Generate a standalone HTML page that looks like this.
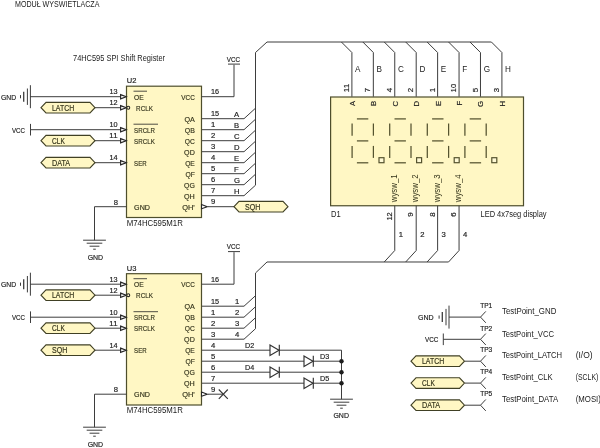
<!DOCTYPE html>
<html><head><meta charset="utf-8"><title>Modul wyswietlacza</title>
<style>
html,body{margin:0;padding:0;background:#fff;}
body{width:600px;height:448px;overflow:hidden;}
svg{display:block;will-change:transform;}
svg text{font-family:"Liberation Sans",sans-serif;stroke-width:0.18px;paint-order:stroke;}
</style></head><body>
<svg width="600" height="448" viewBox="0 0 600 448">
<rect width="600" height="448" fill="#fff"/>
<g transform="translate(0,-0.3)">
<text x="15" y="7.6" font-size="8.16" textLength="84.44" lengthAdjust="spacingAndGlyphs" fill="#222222">MODUŁ WYŚWIETLACZA</text>
<text x="73" y="61.3" font-size="8.26" textLength="92.02" lengthAdjust="spacingAndGlyphs" fill="#222222">74HC595 SPI Shift Register</text>
<rect x="126.5" y="86.5" width="75.0" height="131.3" fill="#fff7c4" stroke="#4e4e2c" stroke-width="1.2"/>
<text x="126.8" y="83.8" font-size="8.06" textLength="9.65" lengthAdjust="spacingAndGlyphs" fill="#222222" stroke="#222222">U2</text>
<text x="126.7" y="226.0" font-size="8.35" textLength="56.12" lengthAdjust="spacingAndGlyphs" fill="#222222">M74HC595M1R</text>
<text x="117.5" y="94.6" font-size="7.68" text-anchor="end" textLength="8.11" lengthAdjust="spacingAndGlyphs" fill="#222222" stroke="#222222">13</text>
<polygon points="120.6,94.9 126.2,97 120.6,99.1" fill="#fff" stroke="#262626" stroke-width="1.15"/>
<text x="134.1" y="100.1" font-size="8.06" textLength="9.66" lengthAdjust="spacingAndGlyphs" fill="#34341c" stroke="#34341c">OE</text>
<line x1="133.5" y1="91.5" x2="147.0" y2="91.5" stroke="#222222" stroke-width="0.8"/>
<text x="117.5" y="105.6" font-size="7.68" text-anchor="end" textLength="8.11" lengthAdjust="spacingAndGlyphs" fill="#222222" stroke="#222222">12</text>
<polygon points="120.6,105.9 126.2,108 120.6,110.1" fill="#fff" stroke="#262626" stroke-width="1.15"/>
<text x="136.1" y="111.1" font-size="8.06" textLength="16.86" lengthAdjust="spacingAndGlyphs" fill="#34341c" stroke="#34341c">RCLK</text>
<text x="117.5" y="127.6" font-size="7.68" text-anchor="end" textLength="8.11" lengthAdjust="spacingAndGlyphs" fill="#222222" stroke="#222222">10</text>
<polygon points="120.6,127.9 126.2,130 120.6,132.1" fill="#fff" stroke="#262626" stroke-width="1.15"/>
<text x="134.1" y="133.1" font-size="8.06" textLength="20.92" lengthAdjust="spacingAndGlyphs" fill="#34341c" stroke="#34341c">SRCLR</text>
<line x1="133.5" y1="124.5" x2="158.0" y2="124.5" stroke="#222222" stroke-width="0.8"/>
<text x="117.5" y="138.6" font-size="7.68" text-anchor="end" textLength="8.11" lengthAdjust="spacingAndGlyphs" fill="#222222" stroke="#222222">11</text>
<polygon points="120.6,138.9 126.2,141 120.6,143.1" fill="#fff" stroke="#262626" stroke-width="1.15"/>
<text x="134.1" y="144.1" font-size="8.06" textLength="20.72" lengthAdjust="spacingAndGlyphs" fill="#34341c" stroke="#34341c">SRCLK</text>
<text x="117.5" y="160.6" font-size="7.68" text-anchor="end" textLength="8.11" lengthAdjust="spacingAndGlyphs" fill="#222222" stroke="#222222">14</text>
<polygon points="120.6,160.9 126.2,163 120.6,165.1" fill="#fff" stroke="#262626" stroke-width="1.15"/>
<text x="134.1" y="166.1" font-size="8.06" textLength="12.52" lengthAdjust="spacingAndGlyphs" fill="#34341c" stroke="#34341c">SER</text>
<circle cx="128.3" cy="108" r="1.45" fill="#fff7c4" stroke="#262626" stroke-width="1.05"/>
<text x="118" y="205" font-size="7.68" text-anchor="end" fill="#222222" stroke="#222222">8</text>
<text x="134.1" y="210.1" font-size="8.06" textLength="15.89" lengthAdjust="spacingAndGlyphs" fill="#34341c" stroke="#34341c">GND</text>
<polyline points="126.5,207 94.5,207 94.5,240.5" fill="none" stroke="#3d3d3d" stroke-width="1"/>
<line x1="83.1" y1="240.5" x2="105.9" y2="240.5" stroke="#3d3d3d" stroke-width="1"/>
<line x1="86.7" y1="243.5" x2="102.3" y2="243.5" stroke="#3d3d3d" stroke-width="1"/>
<line x1="89.6" y1="246.5" x2="99.4" y2="246.5" stroke="#3d3d3d" stroke-width="1"/>
<line x1="93.2" y1="249.5" x2="95.8" y2="249.5" stroke="#3d3d3d" stroke-width="1"/>
<text x="95.4" y="259.9" font-size="7.87" text-anchor="middle" textLength="15.51" lengthAdjust="spacingAndGlyphs" fill="#222222" stroke="#222222">GND</text>
<text x="194.8" y="100.1" font-size="7.97" text-anchor="end" textLength="13.49" lengthAdjust="spacingAndGlyphs" fill="#34341c" stroke="#34341c">VCC</text>
<text x="211" y="94.6" font-size="7.68" textLength="8.11" lengthAdjust="spacingAndGlyphs" fill="#222222" stroke="#222222">16</text>
<text x="194.8" y="122.1" font-size="7.97" text-anchor="end" textLength="10.39" lengthAdjust="spacingAndGlyphs" fill="#34341c" stroke="#34341c">QA</text>
<text x="211" y="116.6" font-size="7.68" textLength="8.11" lengthAdjust="spacingAndGlyphs" fill="#222222" stroke="#222222">15</text>
<text x="194.8" y="133.1" font-size="7.97" text-anchor="end" textLength="10.1" lengthAdjust="spacingAndGlyphs" fill="#34341c" stroke="#34341c">QB</text>
<text x="211" y="127.6" font-size="7.68" fill="#222222" stroke="#222222">1</text>
<text x="194.8" y="144.1" font-size="7.97" text-anchor="end" textLength="10.01" lengthAdjust="spacingAndGlyphs" fill="#34341c" stroke="#34341c">QC</text>
<text x="211" y="138.6" font-size="7.68" fill="#222222" stroke="#222222">2</text>
<text x="194.8" y="155.1" font-size="7.97" text-anchor="end" textLength="10.69" lengthAdjust="spacingAndGlyphs" fill="#34341c" stroke="#34341c">QD</text>
<text x="211" y="149.6" font-size="7.68" fill="#222222" stroke="#222222">3</text>
<text x="194.8" y="166.1" font-size="7.97" text-anchor="end" textLength="9.64" lengthAdjust="spacingAndGlyphs" fill="#34341c" stroke="#34341c">QE</text>
<text x="211" y="160.6" font-size="7.68" fill="#222222" stroke="#222222">4</text>
<text x="194.8" y="177.1" font-size="7.97" text-anchor="end" textLength="9.4" lengthAdjust="spacingAndGlyphs" fill="#34341c" stroke="#34341c">QF</text>
<text x="211" y="171.6" font-size="7.68" fill="#222222" stroke="#222222">5</text>
<text x="194.8" y="188.1" font-size="7.97" text-anchor="end" textLength="10.82" lengthAdjust="spacingAndGlyphs" fill="#34341c" stroke="#34341c">QG</text>
<text x="211" y="182.6" font-size="7.68" fill="#222222" stroke="#222222">6</text>
<text x="194.8" y="199.1" font-size="7.97" text-anchor="end" textLength="10.76" lengthAdjust="spacingAndGlyphs" fill="#34341c" stroke="#34341c">QH</text>
<text x="211" y="193.6" font-size="7.68" fill="#222222" stroke="#222222">7</text>
<text x="194.8" y="210.1" font-size="7.97" text-anchor="end" textLength="12.59" lengthAdjust="spacingAndGlyphs" fill="#34341c" stroke="#34341c">QH'</text>
<text x="211" y="204.6" font-size="7.68" fill="#222222" stroke="#222222">9</text>
<polyline points="201.5,97 234,97 234,65" fill="none" stroke="#3d3d3d" stroke-width="1"/>
<line x1="228" y1="64.4" x2="240" y2="64.4" stroke="#3d3d3d" stroke-width="1"/>
<text x="233.5" y="62" font-size="7.87" text-anchor="middle" textLength="13.33" lengthAdjust="spacingAndGlyphs" fill="#222222" stroke="#222222">VCC</text>
<polygon points="201.5,204.9 207.3,207 201.5,209.1" fill="#fff" stroke="#262626" stroke-width="1.1"/>
<line x1="30" y1="97" x2="120.5" y2="97" stroke="#3d3d3d" stroke-width="1"/>
<line x1="30.4" y1="85.5" x2="30.4" y2="108.5" stroke="#3d3d3d" stroke-width="1"/>
<line x1="27.4" y1="88.8" x2="27.4" y2="105.2" stroke="#3d3d3d" stroke-width="1"/>
<line x1="23.7" y1="92" x2="23.7" y2="102" stroke="#3d3d3d" stroke-width="1.3"/>
<line x1="20.5" y1="95.4" x2="20.5" y2="98.6" stroke="#3d3d3d" stroke-width="1"/>
<text x="1" y="100" font-size="7.68" textLength="15.13" lengthAdjust="spacingAndGlyphs" fill="#222222" stroke="#222222">GND</text>
<line x1="95" y1="108" x2="120.5" y2="108" stroke="#3d3d3d" stroke-width="1"/>
<polygon points="41,108 46,102.7 90,102.7 95,108 90,113.3 46,113.3" fill="#fff7c4" stroke="#404024" stroke-width="1.1"/>
<text x="52" y="110.9" font-size="8.35" textLength="22.13" lengthAdjust="spacingAndGlyphs" fill="#33331a" stroke="#33331a">LATCH</text>
<line x1="30.5" y1="130" x2="120.5" y2="130" stroke="#3d3d3d" stroke-width="1"/>
<line x1="30.5" y1="124.2" x2="30.5" y2="135.8" stroke="#3d3d3d" stroke-width="1"/>
<text x="12" y="133" font-size="7.68" textLength="13.0" lengthAdjust="spacingAndGlyphs" fill="#222222" stroke="#222222">VCC</text>
<line x1="95" y1="141" x2="120.5" y2="141" stroke="#3d3d3d" stroke-width="1"/>
<polygon points="41,141 46,135.7 90,135.7 95,141 90,146.3 46,146.3" fill="#fff7c4" stroke="#404024" stroke-width="1.1"/>
<text x="52" y="143.9" font-size="8.35" textLength="12.82" lengthAdjust="spacingAndGlyphs" fill="#33331a" stroke="#33331a">CLK</text>
<line x1="95" y1="163" x2="120.5" y2="163" stroke="#3d3d3d" stroke-width="1"/>
<polygon points="41,163 46,157.7 90,157.7 95,163 90,168.3 46,168.3" fill="#fff7c4" stroke="#404024" stroke-width="1.1"/>
<text x="52" y="165.9" font-size="8.35" textLength="18.17" lengthAdjust="spacingAndGlyphs" fill="#33331a" stroke="#33331a">DATA</text>
<polyline points="202,119 244,119 255.5,108.5" fill="none" stroke="#3d3d3d" stroke-width="1"/>
<text x="234" y="117" font-size="7.68" fill="#222222" stroke="#222222">A</text>
<polyline points="202,130 244,130 255.5,119.5" fill="none" stroke="#3d3d3d" stroke-width="1"/>
<text x="234" y="128" font-size="7.68" fill="#222222" stroke="#222222">B</text>
<polyline points="202,141 244,141 255.5,130.5" fill="none" stroke="#3d3d3d" stroke-width="1"/>
<text x="234" y="139" font-size="7.68" fill="#222222" stroke="#222222">C</text>
<polyline points="202,152 244,152 255.5,141.5" fill="none" stroke="#3d3d3d" stroke-width="1"/>
<text x="234" y="150" font-size="7.68" fill="#222222" stroke="#222222">D</text>
<polyline points="202,163 244,163 255.5,152.5" fill="none" stroke="#3d3d3d" stroke-width="1"/>
<text x="234" y="161" font-size="7.68" fill="#222222" stroke="#222222">E</text>
<polyline points="202,174 244,174 255.5,163.5" fill="none" stroke="#3d3d3d" stroke-width="1"/>
<text x="234" y="172" font-size="7.68" fill="#222222" stroke="#222222">F</text>
<polyline points="202,185 244,185 255.5,174.5" fill="none" stroke="#3d3d3d" stroke-width="1"/>
<text x="234" y="183" font-size="7.68" fill="#222222" stroke="#222222">G</text>
<polyline points="202,196 244,196 255.5,185.5" fill="none" stroke="#3d3d3d" stroke-width="1"/>
<text x="234" y="194" font-size="7.68" fill="#222222" stroke="#222222">H</text>
<polyline points="255.5,185.5 255.5,52.8 267,42.3 491.41,42.3 501.91,52.8 501.91,97" fill="none" stroke="#3d3d3d" stroke-width="1"/>
<line x1="208" y1="207" x2="234" y2="207" stroke="#3d3d3d" stroke-width="1"/>
<polygon points="234,207 239,201.7 283,201.7 288,207 283,212.3 239,212.3" fill="#fff7c4" stroke="#404024" stroke-width="1.1"/>
<text x="245" y="209.9" font-size="8.35" textLength="15.27" lengthAdjust="spacingAndGlyphs" fill="#33331a" stroke="#33331a">SQH</text>
<rect x="330.6" y="97.3" width="192.9" height="108.75" fill="#fff7c4" stroke="#4e4e2c" stroke-width="1.2"/>
<polyline points="341.4,42.3 351.9,52.8 351.9,97" fill="none" stroke="#3d3d3d" stroke-width="1"/>
<text x="355.09999999999997" y="72.6" font-size="8.16" fill="#222222">A</text>
<text x="349.0" y="92.5" font-size="7.87" textLength="8.31" lengthAdjust="spacingAndGlyphs" transform="rotate(-90 349.0 92.5)" fill="#222222" stroke="#222222">11</text>
<text x="354.9" y="101.2" font-size="7.68" text-anchor="end" transform="rotate(-90 354.9 101.2)" fill="#222222" stroke="#222222">A</text>
<polyline points="362.83,42.3 373.33,52.8 373.33,97" fill="none" stroke="#3d3d3d" stroke-width="1"/>
<text x="376.53" y="72.6" font-size="8.16" fill="#222222">B</text>
<text x="370.43" y="92.5" font-size="7.87" transform="rotate(-90 370.43 92.5)" fill="#222222" stroke="#222222">7</text>
<text x="376.33" y="101.2" font-size="7.68" text-anchor="end" transform="rotate(-90 376.33 101.2)" fill="#222222" stroke="#222222">B</text>
<polyline points="384.26,42.3 394.76,52.8 394.76,97" fill="none" stroke="#3d3d3d" stroke-width="1"/>
<text x="397.96" y="72.6" font-size="8.16" fill="#222222">C</text>
<text x="391.86" y="92.5" font-size="7.87" transform="rotate(-90 391.86 92.5)" fill="#222222" stroke="#222222">4</text>
<text x="397.76" y="101.2" font-size="7.68" text-anchor="end" transform="rotate(-90 397.76 101.2)" fill="#222222" stroke="#222222">C</text>
<polyline points="405.69,42.3 416.19,52.8 416.19,97" fill="none" stroke="#3d3d3d" stroke-width="1"/>
<text x="419.39" y="72.6" font-size="8.16" fill="#222222">D</text>
<text x="413.29" y="92.5" font-size="7.87" transform="rotate(-90 413.29 92.5)" fill="#222222" stroke="#222222">2</text>
<text x="419.19" y="101.2" font-size="7.68" text-anchor="end" transform="rotate(-90 419.19 101.2)" fill="#222222" stroke="#222222">D</text>
<polyline points="427.12,42.3 437.62,52.8 437.62,97" fill="none" stroke="#3d3d3d" stroke-width="1"/>
<text x="440.82" y="72.6" font-size="8.16" fill="#222222">E</text>
<text x="434.72" y="92.5" font-size="7.87" transform="rotate(-90 434.72 92.5)" fill="#222222" stroke="#222222">1</text>
<text x="440.62" y="101.2" font-size="7.68" text-anchor="end" transform="rotate(-90 440.62 101.2)" fill="#222222" stroke="#222222">E</text>
<polyline points="448.55,42.3 459.05,52.8 459.05,97" fill="none" stroke="#3d3d3d" stroke-width="1"/>
<text x="462.25" y="72.6" font-size="8.16" fill="#222222">F</text>
<text x="456.15000000000003" y="92.5" font-size="7.87" textLength="8.31" lengthAdjust="spacingAndGlyphs" transform="rotate(-90 456.15000000000003 92.5)" fill="#222222" stroke="#222222">10</text>
<text x="462.05" y="101.2" font-size="7.68" text-anchor="end" transform="rotate(-90 462.05 101.2)" fill="#222222" stroke="#222222">F</text>
<polyline points="469.98,42.3 480.48,52.8 480.48,97" fill="none" stroke="#3d3d3d" stroke-width="1"/>
<text x="483.68" y="72.6" font-size="8.16" fill="#222222">G</text>
<text x="477.58000000000004" y="92.5" font-size="7.87" transform="rotate(-90 477.58000000000004 92.5)" fill="#222222" stroke="#222222">5</text>
<text x="483.48" y="101.2" font-size="7.68" text-anchor="end" transform="rotate(-90 483.48 101.2)" fill="#222222" stroke="#222222">G</text>
<text x="505.11" y="72.6" font-size="8.16" fill="#222222">H</text>
<text x="499.01000000000005" y="92.5" font-size="7.87" transform="rotate(-90 499.01000000000005 92.5)" fill="#222222" stroke="#222222">3</text>
<text x="504.91" y="101.2" font-size="7.68" text-anchor="end" transform="rotate(-90 504.91 101.2)" fill="#222222" stroke="#222222">H</text>
<line x1="356.90000000000003" y1="119.2" x2="368.3" y2="119.2" stroke="#55532f" stroke-width="1.25"/>
<line x1="356.90000000000003" y1="141.2" x2="368.3" y2="141.2" stroke="#55532f" stroke-width="1.25"/>
<line x1="356.90000000000003" y1="163.1" x2="368.3" y2="163.1" stroke="#55532f" stroke-width="1.25"/>
<line x1="352.1" y1="123.8" x2="352.1" y2="136.0" stroke="#55532f" stroke-width="1.25"/>
<line x1="352.1" y1="146.2" x2="352.1" y2="158.2" stroke="#55532f" stroke-width="1.25"/>
<line x1="373.40000000000003" y1="123.8" x2="373.40000000000003" y2="136.0" stroke="#55532f" stroke-width="1.25"/>
<line x1="373.40000000000003" y1="146.2" x2="373.40000000000003" y2="158.2" stroke="#55532f" stroke-width="1.25"/>
<rect x="379.0" y="158.0" width="5" height="5" fill="#fffad6" stroke="#55532f" stroke-width="1.2"/>
<line x1="394.50000000000006" y1="119.2" x2="405.90000000000003" y2="119.2" stroke="#55532f" stroke-width="1.25"/>
<line x1="394.50000000000006" y1="141.2" x2="405.90000000000003" y2="141.2" stroke="#55532f" stroke-width="1.25"/>
<line x1="394.50000000000006" y1="163.1" x2="405.90000000000003" y2="163.1" stroke="#55532f" stroke-width="1.25"/>
<line x1="389.70000000000005" y1="123.8" x2="389.70000000000005" y2="136.0" stroke="#55532f" stroke-width="1.25"/>
<line x1="389.70000000000005" y1="146.2" x2="389.70000000000005" y2="158.2" stroke="#55532f" stroke-width="1.25"/>
<line x1="411.00000000000006" y1="123.8" x2="411.00000000000006" y2="136.0" stroke="#55532f" stroke-width="1.25"/>
<line x1="411.00000000000006" y1="146.2" x2="411.00000000000006" y2="158.2" stroke="#55532f" stroke-width="1.25"/>
<rect x="416.6" y="158.0" width="5" height="5" fill="#fffad6" stroke="#55532f" stroke-width="1.2"/>
<line x1="432.1" y1="119.2" x2="443.5" y2="119.2" stroke="#55532f" stroke-width="1.25"/>
<line x1="432.1" y1="141.2" x2="443.5" y2="141.2" stroke="#55532f" stroke-width="1.25"/>
<line x1="432.1" y1="163.1" x2="443.5" y2="163.1" stroke="#55532f" stroke-width="1.25"/>
<line x1="427.3" y1="123.8" x2="427.3" y2="136.0" stroke="#55532f" stroke-width="1.25"/>
<line x1="427.3" y1="146.2" x2="427.3" y2="158.2" stroke="#55532f" stroke-width="1.25"/>
<line x1="448.6" y1="123.8" x2="448.6" y2="136.0" stroke="#55532f" stroke-width="1.25"/>
<line x1="448.6" y1="146.2" x2="448.6" y2="158.2" stroke="#55532f" stroke-width="1.25"/>
<rect x="454.2" y="158.0" width="5" height="5" fill="#fffad6" stroke="#55532f" stroke-width="1.2"/>
<line x1="469.70000000000005" y1="119.2" x2="481.1" y2="119.2" stroke="#55532f" stroke-width="1.25"/>
<line x1="469.70000000000005" y1="141.2" x2="481.1" y2="141.2" stroke="#55532f" stroke-width="1.25"/>
<line x1="469.70000000000005" y1="163.1" x2="481.1" y2="163.1" stroke="#55532f" stroke-width="1.25"/>
<line x1="464.90000000000003" y1="123.8" x2="464.90000000000003" y2="136.0" stroke="#55532f" stroke-width="1.25"/>
<line x1="464.90000000000003" y1="146.2" x2="464.90000000000003" y2="158.2" stroke="#55532f" stroke-width="1.25"/>
<line x1="486.20000000000005" y1="123.8" x2="486.20000000000005" y2="136.0" stroke="#55532f" stroke-width="1.25"/>
<line x1="486.20000000000005" y1="146.2" x2="486.20000000000005" y2="158.2" stroke="#55532f" stroke-width="1.25"/>
<rect x="491.8" y="158.0" width="5" height="5" fill="#fffad6" stroke="#55532f" stroke-width="1.2"/>
<text x="396.86" y="202.5" font-size="8.16" textLength="27.8" lengthAdjust="spacingAndGlyphs" transform="rotate(-90 396.86 202.5)" fill="#33331a">wysw_1</text>
<polyline points="394.76,206 394.76,250.8 384.26,262.3" fill="none" stroke="#3d3d3d" stroke-width="1"/>
<text x="391.76" y="212.5" font-size="7.97" text-anchor="end" textLength="8.41" lengthAdjust="spacingAndGlyphs" transform="rotate(-90 391.76 212.5)" fill="#222222" stroke="#222222">12</text>
<text x="398.76" y="237.5" font-size="7.68" fill="#222222" stroke="#222222">1</text>
<text x="418.29" y="202.5" font-size="8.16" textLength="27.8" lengthAdjust="spacingAndGlyphs" transform="rotate(-90 418.29 202.5)" fill="#33331a">wysw_2</text>
<polyline points="416.19,206 416.19,250.8 405.69,262.3" fill="none" stroke="#3d3d3d" stroke-width="1"/>
<text x="413.19" y="212.5" font-size="7.97" text-anchor="end" transform="rotate(-90 413.19 212.5)" fill="#222222" stroke="#222222">9</text>
<text x="420.19" y="237.5" font-size="7.68" fill="#222222" stroke="#222222">2</text>
<text x="439.72" y="202.5" font-size="8.16" textLength="27.8" lengthAdjust="spacingAndGlyphs" transform="rotate(-90 439.72 202.5)" fill="#33331a">wysw_3</text>
<polyline points="437.62,206 437.62,250.8 427.12,262.3" fill="none" stroke="#3d3d3d" stroke-width="1"/>
<text x="434.62" y="212.5" font-size="7.97" text-anchor="end" transform="rotate(-90 434.62 212.5)" fill="#222222" stroke="#222222">8</text>
<text x="441.62" y="237.5" font-size="7.68" fill="#222222" stroke="#222222">3</text>
<text x="461.15000000000003" y="202.5" font-size="8.16" textLength="27.8" lengthAdjust="spacingAndGlyphs" transform="rotate(-90 461.15000000000003 202.5)" fill="#33331a">wysw_4</text>
<polyline points="459.05,206 459.05,250.8 448.55,262.3" fill="none" stroke="#3d3d3d" stroke-width="1"/>
<text x="456.05" y="212.5" font-size="7.97" text-anchor="end" transform="rotate(-90 456.05 212.5)" fill="#222222" stroke="#222222">6</text>
<text x="463.05" y="237.5" font-size="7.68" fill="#222222" stroke="#222222">4</text>
<text x="331" y="217" font-size="8.26" textLength="9.65" lengthAdjust="spacingAndGlyphs" fill="#222222">D1</text>
<text x="480.5" y="217" font-size="8.35" textLength="66.09" lengthAdjust="spacingAndGlyphs" fill="#222222">LED 4x7seg display</text>
<rect x="126.5" y="274.0" width="75.0" height="131.3" fill="#fff7c4" stroke="#4e4e2c" stroke-width="1.2"/>
<text x="126.8" y="271.3" font-size="8.06" textLength="9.65" lengthAdjust="spacingAndGlyphs" fill="#222222" stroke="#222222">U3</text>
<text x="126.7" y="413.5" font-size="8.35" textLength="56.12" lengthAdjust="spacingAndGlyphs" fill="#222222">M74HC595M1R</text>
<text x="117.5" y="282.1" font-size="7.68" text-anchor="end" textLength="8.11" lengthAdjust="spacingAndGlyphs" fill="#222222" stroke="#222222">13</text>
<polygon points="120.6,282.4 126.2,284.5 120.6,286.6" fill="#fff" stroke="#262626" stroke-width="1.15"/>
<text x="134.1" y="287.6" font-size="8.06" textLength="9.66" lengthAdjust="spacingAndGlyphs" fill="#34341c" stroke="#34341c">OE</text>
<line x1="133.5" y1="279.0" x2="147.0" y2="279.0" stroke="#222222" stroke-width="0.8"/>
<text x="117.5" y="293.1" font-size="7.68" text-anchor="end" textLength="8.11" lengthAdjust="spacingAndGlyphs" fill="#222222" stroke="#222222">12</text>
<polygon points="120.6,293.4 126.2,295.5 120.6,297.6" fill="#fff" stroke="#262626" stroke-width="1.15"/>
<text x="136.1" y="298.6" font-size="8.06" textLength="16.86" lengthAdjust="spacingAndGlyphs" fill="#34341c" stroke="#34341c">RCLK</text>
<text x="117.5" y="315.1" font-size="7.68" text-anchor="end" textLength="8.11" lengthAdjust="spacingAndGlyphs" fill="#222222" stroke="#222222">10</text>
<polygon points="120.6,315.4 126.2,317.5 120.6,319.6" fill="#fff" stroke="#262626" stroke-width="1.15"/>
<text x="134.1" y="320.6" font-size="8.06" textLength="20.92" lengthAdjust="spacingAndGlyphs" fill="#34341c" stroke="#34341c">SRCLR</text>
<line x1="133.5" y1="312.0" x2="158.0" y2="312.0" stroke="#222222" stroke-width="0.8"/>
<text x="117.5" y="326.1" font-size="7.68" text-anchor="end" textLength="8.11" lengthAdjust="spacingAndGlyphs" fill="#222222" stroke="#222222">11</text>
<polygon points="120.6,326.4 126.2,328.5 120.6,330.6" fill="#fff" stroke="#262626" stroke-width="1.15"/>
<text x="134.1" y="331.6" font-size="8.06" textLength="20.72" lengthAdjust="spacingAndGlyphs" fill="#34341c" stroke="#34341c">SRCLK</text>
<text x="117.5" y="348.1" font-size="7.68" text-anchor="end" textLength="8.11" lengthAdjust="spacingAndGlyphs" fill="#222222" stroke="#222222">14</text>
<polygon points="120.6,348.4 126.2,350.5 120.6,352.6" fill="#fff" stroke="#262626" stroke-width="1.15"/>
<text x="134.1" y="353.6" font-size="8.06" textLength="12.52" lengthAdjust="spacingAndGlyphs" fill="#34341c" stroke="#34341c">SER</text>
<circle cx="128.3" cy="295.5" r="1.45" fill="#fff7c4" stroke="#262626" stroke-width="1.05"/>
<text x="118" y="392.5" font-size="7.68" text-anchor="end" fill="#222222" stroke="#222222">8</text>
<text x="134.1" y="397.6" font-size="8.06" textLength="15.89" lengthAdjust="spacingAndGlyphs" fill="#34341c" stroke="#34341c">GND</text>
<polyline points="126.5,394.5 94.5,394.5 94.5,427.5" fill="none" stroke="#3d3d3d" stroke-width="1"/>
<line x1="83.1" y1="427.5" x2="105.9" y2="427.5" stroke="#3d3d3d" stroke-width="1"/>
<line x1="86.7" y1="430.5" x2="102.3" y2="430.5" stroke="#3d3d3d" stroke-width="1"/>
<line x1="89.6" y1="433.5" x2="99.4" y2="433.5" stroke="#3d3d3d" stroke-width="1"/>
<line x1="93.2" y1="436.5" x2="95.8" y2="436.5" stroke="#3d3d3d" stroke-width="1"/>
<text x="95.4" y="446.9" font-size="7.87" text-anchor="middle" textLength="15.51" lengthAdjust="spacingAndGlyphs" fill="#222222" stroke="#222222">GND</text>
<text x="194.8" y="287.6" font-size="7.97" text-anchor="end" textLength="13.49" lengthAdjust="spacingAndGlyphs" fill="#34341c" stroke="#34341c">VCC</text>
<text x="211" y="282.1" font-size="7.68" textLength="8.11" lengthAdjust="spacingAndGlyphs" fill="#222222" stroke="#222222">16</text>
<text x="194.8" y="309.6" font-size="7.97" text-anchor="end" textLength="10.39" lengthAdjust="spacingAndGlyphs" fill="#34341c" stroke="#34341c">QA</text>
<text x="211" y="304.1" font-size="7.68" textLength="8.11" lengthAdjust="spacingAndGlyphs" fill="#222222" stroke="#222222">15</text>
<text x="194.8" y="320.6" font-size="7.97" text-anchor="end" textLength="10.1" lengthAdjust="spacingAndGlyphs" fill="#34341c" stroke="#34341c">QB</text>
<text x="211" y="315.1" font-size="7.68" fill="#222222" stroke="#222222">1</text>
<text x="194.8" y="331.6" font-size="7.97" text-anchor="end" textLength="10.01" lengthAdjust="spacingAndGlyphs" fill="#34341c" stroke="#34341c">QC</text>
<text x="211" y="326.1" font-size="7.68" fill="#222222" stroke="#222222">2</text>
<text x="194.8" y="342.6" font-size="7.97" text-anchor="end" textLength="10.69" lengthAdjust="spacingAndGlyphs" fill="#34341c" stroke="#34341c">QD</text>
<text x="211" y="337.1" font-size="7.68" fill="#222222" stroke="#222222">3</text>
<text x="194.8" y="353.6" font-size="7.97" text-anchor="end" textLength="9.64" lengthAdjust="spacingAndGlyphs" fill="#34341c" stroke="#34341c">QE</text>
<text x="211" y="348.1" font-size="7.68" fill="#222222" stroke="#222222">4</text>
<text x="194.8" y="364.6" font-size="7.97" text-anchor="end" textLength="9.4" lengthAdjust="spacingAndGlyphs" fill="#34341c" stroke="#34341c">QF</text>
<text x="211" y="359.1" font-size="7.68" fill="#222222" stroke="#222222">5</text>
<text x="194.8" y="375.6" font-size="7.97" text-anchor="end" textLength="10.82" lengthAdjust="spacingAndGlyphs" fill="#34341c" stroke="#34341c">QG</text>
<text x="211" y="370.1" font-size="7.68" fill="#222222" stroke="#222222">6</text>
<text x="194.8" y="386.6" font-size="7.97" text-anchor="end" textLength="10.76" lengthAdjust="spacingAndGlyphs" fill="#34341c" stroke="#34341c">QH</text>
<text x="211" y="381.1" font-size="7.68" fill="#222222" stroke="#222222">7</text>
<text x="194.8" y="397.6" font-size="7.97" text-anchor="end" textLength="12.59" lengthAdjust="spacingAndGlyphs" fill="#34341c" stroke="#34341c">QH'</text>
<text x="211" y="392.1" font-size="7.68" fill="#222222" stroke="#222222">9</text>
<polyline points="201.5,284.5 234,284.5 234,252.5" fill="none" stroke="#3d3d3d" stroke-width="1"/>
<line x1="228" y1="251.9" x2="240" y2="251.9" stroke="#3d3d3d" stroke-width="1"/>
<text x="233.5" y="249.5" font-size="7.87" text-anchor="middle" textLength="13.33" lengthAdjust="spacingAndGlyphs" fill="#222222" stroke="#222222">VCC</text>
<polygon points="201.5,392.4 207.3,394.5 201.5,396.6" fill="#fff" stroke="#262626" stroke-width="1.1"/>
<line x1="30" y1="284.5" x2="120.5" y2="284.5" stroke="#3d3d3d" stroke-width="1"/>
<line x1="30.4" y1="273.0" x2="30.4" y2="296.0" stroke="#3d3d3d" stroke-width="1"/>
<line x1="27.4" y1="276.3" x2="27.4" y2="292.7" stroke="#3d3d3d" stroke-width="1"/>
<line x1="23.7" y1="279.5" x2="23.7" y2="289.5" stroke="#3d3d3d" stroke-width="1.3"/>
<line x1="20.5" y1="282.9" x2="20.5" y2="286.1" stroke="#3d3d3d" stroke-width="1"/>
<text x="1" y="287.5" font-size="7.68" textLength="15.13" lengthAdjust="spacingAndGlyphs" fill="#222222" stroke="#222222">GND</text>
<line x1="95" y1="295.5" x2="120.5" y2="295.5" stroke="#3d3d3d" stroke-width="1"/>
<polygon points="41,295.5 46,290.2 90,290.2 95,295.5 90,300.8 46,300.8" fill="#fff7c4" stroke="#404024" stroke-width="1.1"/>
<text x="52" y="298.4" font-size="8.35" textLength="22.13" lengthAdjust="spacingAndGlyphs" fill="#33331a" stroke="#33331a">LATCH</text>
<line x1="30.5" y1="317.5" x2="120.5" y2="317.5" stroke="#3d3d3d" stroke-width="1"/>
<line x1="30.5" y1="311.7" x2="30.5" y2="323.3" stroke="#3d3d3d" stroke-width="1"/>
<text x="12" y="320.5" font-size="7.68" textLength="13.0" lengthAdjust="spacingAndGlyphs" fill="#222222" stroke="#222222">VCC</text>
<line x1="95" y1="328.5" x2="120.5" y2="328.5" stroke="#3d3d3d" stroke-width="1"/>
<polygon points="41,328.5 46,323.2 90,323.2 95,328.5 90,333.8 46,333.8" fill="#fff7c4" stroke="#404024" stroke-width="1.1"/>
<text x="52" y="331.4" font-size="8.35" textLength="12.82" lengthAdjust="spacingAndGlyphs" fill="#33331a" stroke="#33331a">CLK</text>
<line x1="95" y1="350.5" x2="120.5" y2="350.5" stroke="#3d3d3d" stroke-width="1"/>
<polygon points="41,350.5 46,345.2 90,345.2 95,350.5 90,355.8 46,355.8" fill="#fff7c4" stroke="#404024" stroke-width="1.1"/>
<text x="52" y="353.4" font-size="8.35" textLength="15.27" lengthAdjust="spacingAndGlyphs" fill="#33331a" stroke="#33331a">SQH</text>
<polyline points="202,306.5 244,306.5 255.5,296.0" fill="none" stroke="#3d3d3d" stroke-width="1"/>
<text x="235" y="304.1" font-size="7.68" fill="#222222" stroke="#222222">1</text>
<polyline points="202,317.5 244,317.5 255.5,307.0" fill="none" stroke="#3d3d3d" stroke-width="1"/>
<text x="235" y="315.1" font-size="7.68" fill="#222222" stroke="#222222">2</text>
<polyline points="202,328.5 244,328.5 255.5,318.0" fill="none" stroke="#3d3d3d" stroke-width="1"/>
<text x="235" y="326.1" font-size="7.68" fill="#222222" stroke="#222222">3</text>
<polyline points="202,339.5 244,339.5 255.5,329.0" fill="none" stroke="#3d3d3d" stroke-width="1"/>
<text x="235" y="337.1" font-size="7.68" fill="#222222" stroke="#222222">4</text>
<polyline points="255.5,329.0 255.5,273.3 267,262.3 448.55,262.3" fill="none" stroke="#3d3d3d" stroke-width="1"/>
<polyline points="202,350.5 341.5,350.5 341.5,399.5" fill="none" stroke="#3d3d3d" stroke-width="1"/>
<line x1="202" y1="361.5" x2="341.5" y2="361.5" stroke="#3d3d3d" stroke-width="1"/>
<line x1="202" y1="372.5" x2="341.5" y2="372.5" stroke="#3d3d3d" stroke-width="1"/>
<line x1="202" y1="383.5" x2="341.5" y2="383.5" stroke="#3d3d3d" stroke-width="1"/>
<polygon points="270,345.3 279,350.5 270,355.7" fill="#fff" stroke="#333" stroke-width="1.15"/>
<line x1="279.3" y1="345.0" x2="279.3" y2="356.0" stroke="#333" stroke-width="1.15"/>
<polygon points="304,356.3 313,361.5 304,366.7" fill="#fff" stroke="#333" stroke-width="1.15"/>
<line x1="313.3" y1="356.0" x2="313.3" y2="367.0" stroke="#333" stroke-width="1.15"/>
<polygon points="270,367.3 279,372.5 270,377.7" fill="#fff" stroke="#333" stroke-width="1.15"/>
<line x1="279.3" y1="367.0" x2="279.3" y2="378.0" stroke="#333" stroke-width="1.15"/>
<polygon points="304,378.3 313,383.5 304,388.7" fill="#fff" stroke="#333" stroke-width="1.15"/>
<line x1="313.3" y1="378.0" x2="313.3" y2="389.0" stroke="#333" stroke-width="1.15"/>
<circle cx="341.5" cy="361.5" r="2.2" fill="#1e1e1e"/>
<circle cx="341.5" cy="372.5" r="2.2" fill="#1e1e1e"/>
<circle cx="341.5" cy="383.5" r="2.2" fill="#1e1e1e"/>
<text x="245" y="348.3" font-size="7.87" textLength="9.2" lengthAdjust="spacingAndGlyphs" fill="#222222" stroke="#222222">D2</text>
<text x="320" y="359.3" font-size="7.87" textLength="9.2" lengthAdjust="spacingAndGlyphs" fill="#222222" stroke="#222222">D3</text>
<text x="245" y="370.3" font-size="7.87" textLength="9.2" lengthAdjust="spacingAndGlyphs" fill="#222222" stroke="#222222">D4</text>
<text x="320" y="381.3" font-size="7.87" textLength="9.2" lengthAdjust="spacingAndGlyphs" fill="#222222" stroke="#222222">D5</text>
<line x1="330.1" y1="399.5" x2="352.9" y2="399.5" stroke="#3d3d3d" stroke-width="1"/>
<line x1="333.7" y1="402.5" x2="349.3" y2="402.5" stroke="#3d3d3d" stroke-width="1"/>
<line x1="336.6" y1="405.5" x2="346.4" y2="405.5" stroke="#3d3d3d" stroke-width="1"/>
<line x1="340.2" y1="408.5" x2="342.8" y2="408.5" stroke="#3d3d3d" stroke-width="1"/>
<text x="341.2" y="417.9" font-size="7.87" text-anchor="middle" textLength="15.51" lengthAdjust="spacingAndGlyphs" fill="#222222" stroke="#222222">GND</text>
<line x1="208" y1="394.5" x2="223" y2="394.5" stroke="#3d3d3d" stroke-width="1"/>
<line x1="218.8" y1="389.8" x2="227.8" y2="399.2" stroke="#333" stroke-width="1.1"/>
<line x1="218.8" y1="399.2" x2="227.8" y2="389.8" stroke="#333" stroke-width="1.1"/>
<line x1="449" y1="317.4" x2="480.5" y2="317.4" stroke="#3d3d3d" stroke-width="1"/>
<line x1="480.5" y1="317.4" x2="485.8" y2="311.7" stroke="#3d3d3d" stroke-width="1"/>
<line x1="480.5" y1="317.4" x2="485.8" y2="323.09999999999997" stroke="#3d3d3d" stroke-width="1"/>
<text x="480.2" y="308.7" font-size="7.68" textLength="12.09" lengthAdjust="spacingAndGlyphs" fill="#222222" stroke="#222222">TP1</text>
<text x="502" y="314.7" font-size="8.54" textLength="54.33" lengthAdjust="spacingAndGlyphs" fill="#222222">TestPoint_GND</text>
<line x1="449.0" y1="305.9" x2="449.0" y2="328.9" stroke="#3d3d3d" stroke-width="1"/>
<line x1="446.0" y1="309.2" x2="446.0" y2="325.59999999999997" stroke="#3d3d3d" stroke-width="1"/>
<line x1="442.3" y1="312.4" x2="442.3" y2="322.4" stroke="#3d3d3d" stroke-width="1.3"/>
<line x1="439.1" y1="315.79999999999995" x2="439.1" y2="319.0" stroke="#3d3d3d" stroke-width="1"/>
<text x="418" y="320.4" font-size="7.97" textLength="15.7" lengthAdjust="spacingAndGlyphs" fill="#222222" stroke="#222222">GND</text>
<line x1="443.3" y1="339.6" x2="480.5" y2="339.6" stroke="#3d3d3d" stroke-width="1"/>
<line x1="480.5" y1="339.6" x2="485.8" y2="333.90000000000003" stroke="#3d3d3d" stroke-width="1"/>
<line x1="480.5" y1="339.6" x2="485.8" y2="345.3" stroke="#3d3d3d" stroke-width="1"/>
<text x="480.2" y="330.90000000000003" font-size="7.68" textLength="12.09" lengthAdjust="spacingAndGlyphs" fill="#222222" stroke="#222222">TP2</text>
<text x="502" y="336.90000000000003" font-size="8.54" textLength="51.96" lengthAdjust="spacingAndGlyphs" fill="#222222">TestPoint_VCC</text>
<line x1="443.3" y1="333.8" x2="443.3" y2="345.40000000000003" stroke="#3d3d3d" stroke-width="1"/>
<text x="425" y="342.20000000000005" font-size="7.87" textLength="13.33" lengthAdjust="spacingAndGlyphs" fill="#222222" stroke="#222222">VCC</text>
<line x1="465" y1="361.5" x2="480.5" y2="361.5" stroke="#3d3d3d" stroke-width="1"/>
<line x1="480.5" y1="361.5" x2="485.8" y2="355.8" stroke="#3d3d3d" stroke-width="1"/>
<line x1="480.5" y1="361.5" x2="485.8" y2="367.2" stroke="#3d3d3d" stroke-width="1"/>
<text x="480.2" y="352.8" font-size="7.68" textLength="12.09" lengthAdjust="spacingAndGlyphs" fill="#222222" stroke="#222222">TP3</text>
<text x="502" y="358.8" font-size="8.54" textLength="60.14" lengthAdjust="spacingAndGlyphs" fill="#222222">TestPoint_LATCH</text>
<text x="575.7" y="358.8" font-size="8.54" textLength="16.97" lengthAdjust="spacingAndGlyphs" fill="#222222">(I/O)</text>
<polygon points="411,361.5 416,356.2 459.5,356.2 464.5,361.5 459.5,366.8 416,366.8" fill="#fff7c4" stroke="#404024" stroke-width="1.1"/>
<text x="422" y="364.4" font-size="8.35" textLength="22.13" lengthAdjust="spacingAndGlyphs" fill="#33331a" stroke="#33331a">LATCH</text>
<line x1="465" y1="383.4" x2="480.5" y2="383.4" stroke="#3d3d3d" stroke-width="1"/>
<line x1="480.5" y1="383.4" x2="485.8" y2="377.7" stroke="#3d3d3d" stroke-width="1"/>
<line x1="480.5" y1="383.4" x2="485.8" y2="389.09999999999997" stroke="#3d3d3d" stroke-width="1"/>
<text x="480.2" y="374.7" font-size="7.68" textLength="12.09" lengthAdjust="spacingAndGlyphs" fill="#222222" stroke="#222222">TP4</text>
<text x="502" y="380.7" font-size="8.54" textLength="50.61" lengthAdjust="spacingAndGlyphs" fill="#222222">TestPoint_CLK</text>
<text x="575.7" y="380.7" font-size="8.54" textLength="22.6" lengthAdjust="spacingAndGlyphs" fill="#222222">(SCLK)</text>
<polygon points="411,383.4 416,378.09999999999997 459.5,378.09999999999997 464.5,383.4 459.5,388.7 416,388.7" fill="#fff7c4" stroke="#404024" stroke-width="1.1"/>
<text x="422" y="386.29999999999995" font-size="8.35" textLength="12.82" lengthAdjust="spacingAndGlyphs" fill="#33331a" stroke="#33331a">CLK</text>
<line x1="465" y1="405.5" x2="480.5" y2="405.5" stroke="#3d3d3d" stroke-width="1"/>
<line x1="480.5" y1="405.5" x2="485.8" y2="399.8" stroke="#3d3d3d" stroke-width="1"/>
<line x1="480.5" y1="405.5" x2="485.8" y2="411.2" stroke="#3d3d3d" stroke-width="1"/>
<text x="480.2" y="396.8" font-size="7.68" textLength="12.09" lengthAdjust="spacingAndGlyphs" fill="#222222" stroke="#222222">TP5</text>
<text x="502" y="402.8" font-size="8.54" textLength="56.09" lengthAdjust="spacingAndGlyphs" fill="#222222">TestPoint_DATA</text>
<text x="575.7" y="402.8" font-size="8.54" textLength="25.23" lengthAdjust="spacingAndGlyphs" fill="#222222">(MOSI)</text>
<polygon points="411,405.5 416,400.2 459.5,400.2 464.5,405.5 459.5,410.8 416,410.8" fill="#fff7c4" stroke="#404024" stroke-width="1.1"/>
<text x="422" y="408.4" font-size="8.35" textLength="18.17" lengthAdjust="spacingAndGlyphs" fill="#33331a" stroke="#33331a">DATA</text>
</g>
</svg>
</body></html>
